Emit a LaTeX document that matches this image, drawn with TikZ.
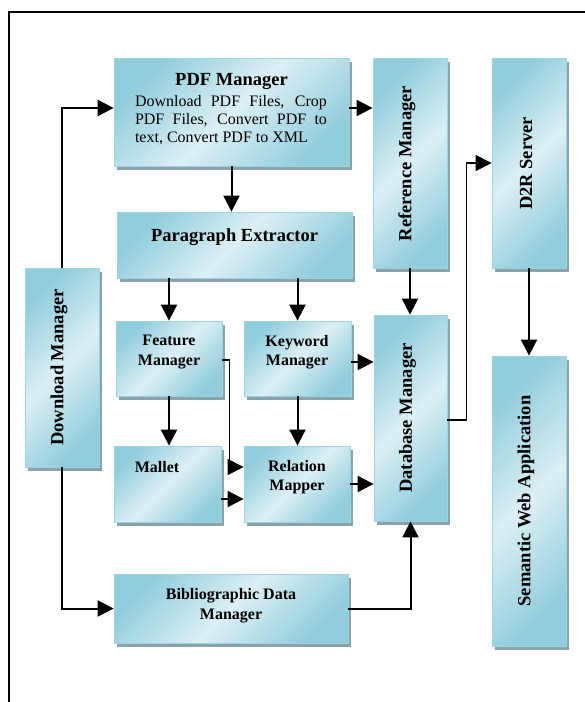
\documentclass[tikz,border=0pt]{standalone}
\usepackage{fontspec}
\setmainfont{Liberation Serif}
\usetikzlibrary{shadows,arrows.meta,calc}
\definecolor{boxlight}{RGB}{220,239,244}
\definecolor{boxdark}{RGB}{146,205,220}
\definecolor{boxedge}{RGB}{155,212,226}
\definecolor{shadowgray}{RGB}{140,162,170}
\begin{document}
\begin{tikzpicture}[x=1pt,y=-1pt,
  box/.style={draw=boxedge, line width=0.8pt,
    left color=boxdark, right color=boxdark, middle color=boxlight, shading angle=45,
    drop shadow={shadow xshift=3pt, shadow yshift=-4pt, fill=shadowgray, opacity=1},
    inner sep=0pt, anchor=center},
  arr/.style={-{Triangle[length=16pt 0 0,width=16pt 0 0]}, line width=2pt},
  thinarr/.style={-{Triangle[length=16pt 0 0,width=16pt 0 0]}, line width=1.2pt},
  txt/.style={font=\bfseries\fontsize{16}{19.5}\selectfont, align=center, inner sep=0pt},
  ttl/.style={font=\bfseries\fontsize{18.5}{20}\selectfont, inner sep=0pt},
  vtxt/.style={font=\bfseries\fontsize{18.5}{20}\selectfont, inner sep=0pt, rotate=90}
]
\useasboundingbox (0,0) rectangle (585,702);
\draw[line width=1.2pt] (9,702) -- (9,12) -- (585,12);

% boxes
\node[box, minimum width=235pt, minimum height=108pt] (pdf) at (231.5,112) {};
\node[box, minimum width=74pt, minimum height=210pt] (ref) at (410,163) {};
\node[box, minimum width=74pt, minimum height=210pt] (d2r) at (529,163) {};
\node[box, minimum width=235pt, minimum height=66pt] (para) at (234.5,245) {};
\node[box, minimum width=74pt, minimum height=199pt] (dl) at (62,367.5) {};
\node[box, minimum width=106pt, minimum height=75pt] (feat) at (169,358.5) {};
\node[box, minimum width=107pt, minimum height=75pt] (key) at (297.5,358.5) {};
\node[box, minimum width=107pt, minimum height=76pt] (mallet) at (167.5,484) {};
\node[box, minimum width=106pt, minimum height=76pt] (rel) at (297,484) {};
\node[box, minimum width=73pt, minimum height=206pt] (db) at (410.5,418) {};
\node[box, minimum width=74pt, minimum height=290pt] (sem) at (529,501) {};
\node[box, minimum width=234pt, minimum height=69pt] (bib) at (231,608.5) {};

% texts
\node[ttl] (pdft) at (231.5,81) {PDF Manager};
\node[inner sep=0pt, text width=192pt, align=justify,
      font=\fontsize{16}{18.3}\selectfont] (pdfb) at (231,120)
  {Download PDF Files, Crop\linebreak PDF Files, Convert PDF to\linebreak text, Convert PDF to XML};
\node[ttl] (parat) at (234.5,237) {Paragraph Extractor};
\node[txt] (featt) at (169,352) {Feature\\Manager};
\node[txt] (keyt) at (297,352) {Keyword\\Manager};
\node[txt] (mallett) at (157,467) {Mallet};
\node[txt] (relt) at (297,477) {Relation\\Mapper};
\node[txt] (bibt) at (231,605.5) {Bibliographic Data\\Manager};
\node[vtxt] (dlt) at (59,367.5) {Download Manager};
\node[vtxt] (reft) at (407,163.5) {Reference Manager};
\node[vtxt] (d2rt) at (526,163.5) {D2R Server};
\node[vtxt] (dbt) at (407.5,418) {Database Manager};
\node[vtxt] (semt) at (526,501) {Semantic Web Application};

% connectors
\draw[arr] (dl.north) |- ([yshift=4pt]pdf.west);
\draw[arr] (dl.south) |- (bib.west);
\draw[arr] ([yshift=4pt]pdf.east) -- ([yshift=4pt]pdf.east -| ref.west);
\draw[arr] (pdf.south) -- (pdf.south |- para.north);
\draw[arr] (para.south -| feat.north) -- (feat.north);
\draw[arr] (para.south -| key.north) -- (key.north);
\draw[arr] (feat.south) -- (feat.south |- mallet.north);
\draw[arr] (key.south) -- (key.south |- rel.north);
\draw[arr] (ref.south) -- (ref.south |- db.north);
\draw[arr] (d2r.south) -- (d2r.south |- sem.north);
\draw[arr] ([yshift=-3.5pt]key.east) -- ([yshift=-3.5pt]key.east -| db.west);
\draw[arr] (rel.east) -- (rel.east -| db.west);
\draw[arr] ([yshift=-15pt]mallet.east) -- ([yshift=-15pt]mallet.east -| rel.west);
\draw[thinarr] ([yshift=-1.5pt]feat.east) -- ++(7,0) |- ([yshift=17pt]rel.west);
\draw[arr] (bib.east) -| (db.south);
\draw[thinarr] ([yshift=-2pt]db.east) -- ++(19,0) |- (d2r.west);
\end{tikzpicture}
\end{document}
